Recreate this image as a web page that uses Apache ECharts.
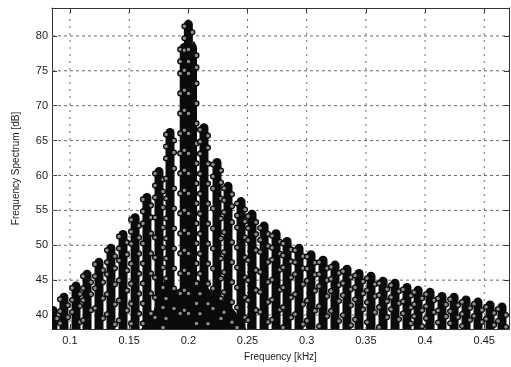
<!DOCTYPE html>
<html>
<head>
<meta charset="utf-8">
<script src="https://cdn.jsdelivr.net/npm/echarts@6/dist/echarts.min.js"></script>
<style>
html,body{margin:0;padding:0;background:#fff;}
#c{width:511px;height:367px;}
</style>
</head>
<body>
<div id="c"></div>
<script>
// ---- data ----
const lobeFreq = [0.0856, 0.0949, 0.1051, 0.1144, 0.1245, 0.1346, 0.1448, 0.1550, 0.1650, 0.1752,
  0.1845, 0.1965, 0.2000, 0.2035, 0.2132, 0.2242, 0.2335, 0.2445, 0.2538, 0.2640,
  0.2741, 0.2834, 0.2935, 0.3036, 0.3138, 0.3239, 0.3340, 0.3442, 0.3543, 0.3645,
  0.3746, 0.3847, 0.3941, 0.4042, 0.4143, 0.4245, 0.4346, 0.4447, 0.4549, 0.4650];
const lobePeak = [41.3, 43.2, 44.8, 46.5, 48.2, 50.2, 52.2, 54.6, 57.5, 61.2,
  66.8, 79.0, 82.3, 79.0, 67.5, 62.5, 59.1, 56.9, 55.1, 53.4,
  52.3, 51.2, 50.2, 49.3, 48.5, 47.8, 47.2, 46.6, 46.2, 45.5,
  45.2, 44.6, 44.2, 43.9, 43.3, 43.2, 42.8, 42.5, 42.1, 41.8];
const troughFreq = [0.160, 0.1698, 0.1795, 0.1895, 0.2085, 0.2185, 0.2290, 0.2390, 0.249];
const troughVal  = [38.0, 40.3, 45.0, 43.6, 45.0, 43.6, 42.2, 40.7, 38.0];
const xTicks = [0.1, 0.15, 0.2, 0.25, 0.3, 0.35, 0.4, 0.45];
const yTicks = [40, 45, 50, 55, 60, 65, 70, 75, 80];
const X_MIN = 0.0848, X_MAX = 0.4709, Y_MIN = 38, Y_MAX = 84;

const lobes = lobeFreq.map((f, i) => [f, lobePeak[i]]);
const troughs = troughFreq.map((f, i) => [f, troughVal[i]]);

const INK = '#0b0b0b';
function renderLobe(params, api) {
  const f = api.value(0), v = api.value(1);
  const top = api.coord([f, v]);
  const base = api.coord([f, Y_MIN]);
  const w = 9, r = w / 2;
  const children = [{
    type: 'rect',
    shape: {x: top[0] - r, y: top[1], width: w, height: base[1] - top[1] + 3, r: [r, r, 0, 0]},
    style: {fill: INK}
  }];
  let i = 0;
  for (let y = top[1] + r + 2; y < base[1] - 1; y += (i < 4 ? 6 : 10), i++) {
    const cx = top[0] + (i % 2 ? (r - 0.5) : -(r - 0.5));
    children.push({type: 'circle', shape: {cx: cx, cy: y, r: 2.4},
      style: {fill: '#8e8e8e', stroke: INK, lineWidth: 1.3}});
  }
  return {type: 'group', children: children};
}
function renderVGrid(params, api) {
  const a = api.coord([api.value(0), Y_MIN]);
  const b = api.coord([api.value(0), Y_MAX]);
  return {type: 'line', shape: {x1: a[0], y1: a[1], x2: b[0], y2: b[1]},
    style: {stroke: '#6a6a6a', lineWidth: 1, lineDash: [2, 5]}};
}
function renderHGrid(params, api) {
  const a = api.coord([X_MIN, api.value(1)]);
  const b = api.coord([X_MAX, api.value(1)]);
  return {type: 'line', shape: {x1: a[0], y1: a[1], x2: b[0], y2: b[1]},
    style: {stroke: '#6a6a6a', lineWidth: 1, lineDash: [3, 3]}};
}

const labelFont = {fontFamily: 'Liberation Sans, Arial, sans-serif', fontSize: 11, color: '#1a1a1a'};
const nameFont = {fontFamily: 'Liberation Sans, Arial, sans-serif', fontSize: 10, color: '#1a1a1a'};
const chart = echarts.init(document.getElementById('c'), null, {renderer: 'canvas'});
chart.setOption({
  animation: false,
  backgroundColor: '#fff',
  grid: {left: 52, right: 2, top: 8, bottom: 38, containLabel: false},
  xAxis: [{
    type: 'value', min: X_MIN, max: X_MAX, position: 'bottom',
    axisLine: {show: true, onZero: false, lineStyle: {color: '#333', width: 1}},
    axisTick: {show: true, inside: true, length: 5, customValues: xTicks, lineStyle: {color: '#333'}},
    axisLabel: Object.assign({show: true, customValues: xTicks, margin: 6,
      formatter: v => String(+v.toFixed(2))}, labelFont),
    splitLine: {show: false},
    name: 'Frequency [kHz]', nameLocation: 'middle', nameGap: 23, nameTextStyle: nameFont
  }, {
    type: 'value', min: X_MIN, max: X_MAX, position: 'top',
    axisLine: {show: true, onZero: false, lineStyle: {color: '#333', width: 1}},
    axisTick: {show: true, inside: true, length: 5, customValues: xTicks, lineStyle: {color: '#333'}},
    axisLabel: {show: false}, splitLine: {show: false}
  }],
  yAxis: [{
    type: 'value', min: Y_MIN, max: Y_MAX, position: 'left',
    axisLine: {show: true, onZero: false, lineStyle: {color: '#333', width: 1}},
    axisTick: {show: true, inside: true, length: 5, customValues: yTicks, lineStyle: {color: '#333'}},
    axisLabel: Object.assign({show: true, customValues: yTicks, margin: 4}, labelFont),
    splitLine: {show: false},
    name: 'Frequency Spectrum [dB]', nameLocation: 'middle', nameGap: 31, nameTextStyle: nameFont
  }, {
    type: 'value', min: Y_MIN, max: Y_MAX, position: 'right',
    axisLine: {show: true, onZero: false, lineStyle: {color: '#333', width: 1}},
    axisTick: {show: true, inside: true, length: 5, customValues: yTicks, lineStyle: {color: '#333'}},
    axisLabel: {show: false}, splitLine: {show: false}
  }],
  series: [{
    type: 'custom', data: xTicks.map(t => [t, Y_MIN]), z: 1, silent: true, clip: true,
    renderItem: renderVGrid
  }, {
    type: 'custom', data: yTicks.map(t => [X_MIN, t]), z: 1, silent: true, clip: true,
    renderItem: renderHGrid
  }, {
    type: 'line', data: troughs, z: 2, symbol: 'none', silent: true,
    lineStyle: {width: 0}, areaStyle: {color: INK, opacity: 1, origin: 'start'}
  }, {
    type: 'custom', data: lobes, z: 3, clip: true, silent: true,
    renderItem: renderLobe
  }]
});
</script>
</body>
</html>
